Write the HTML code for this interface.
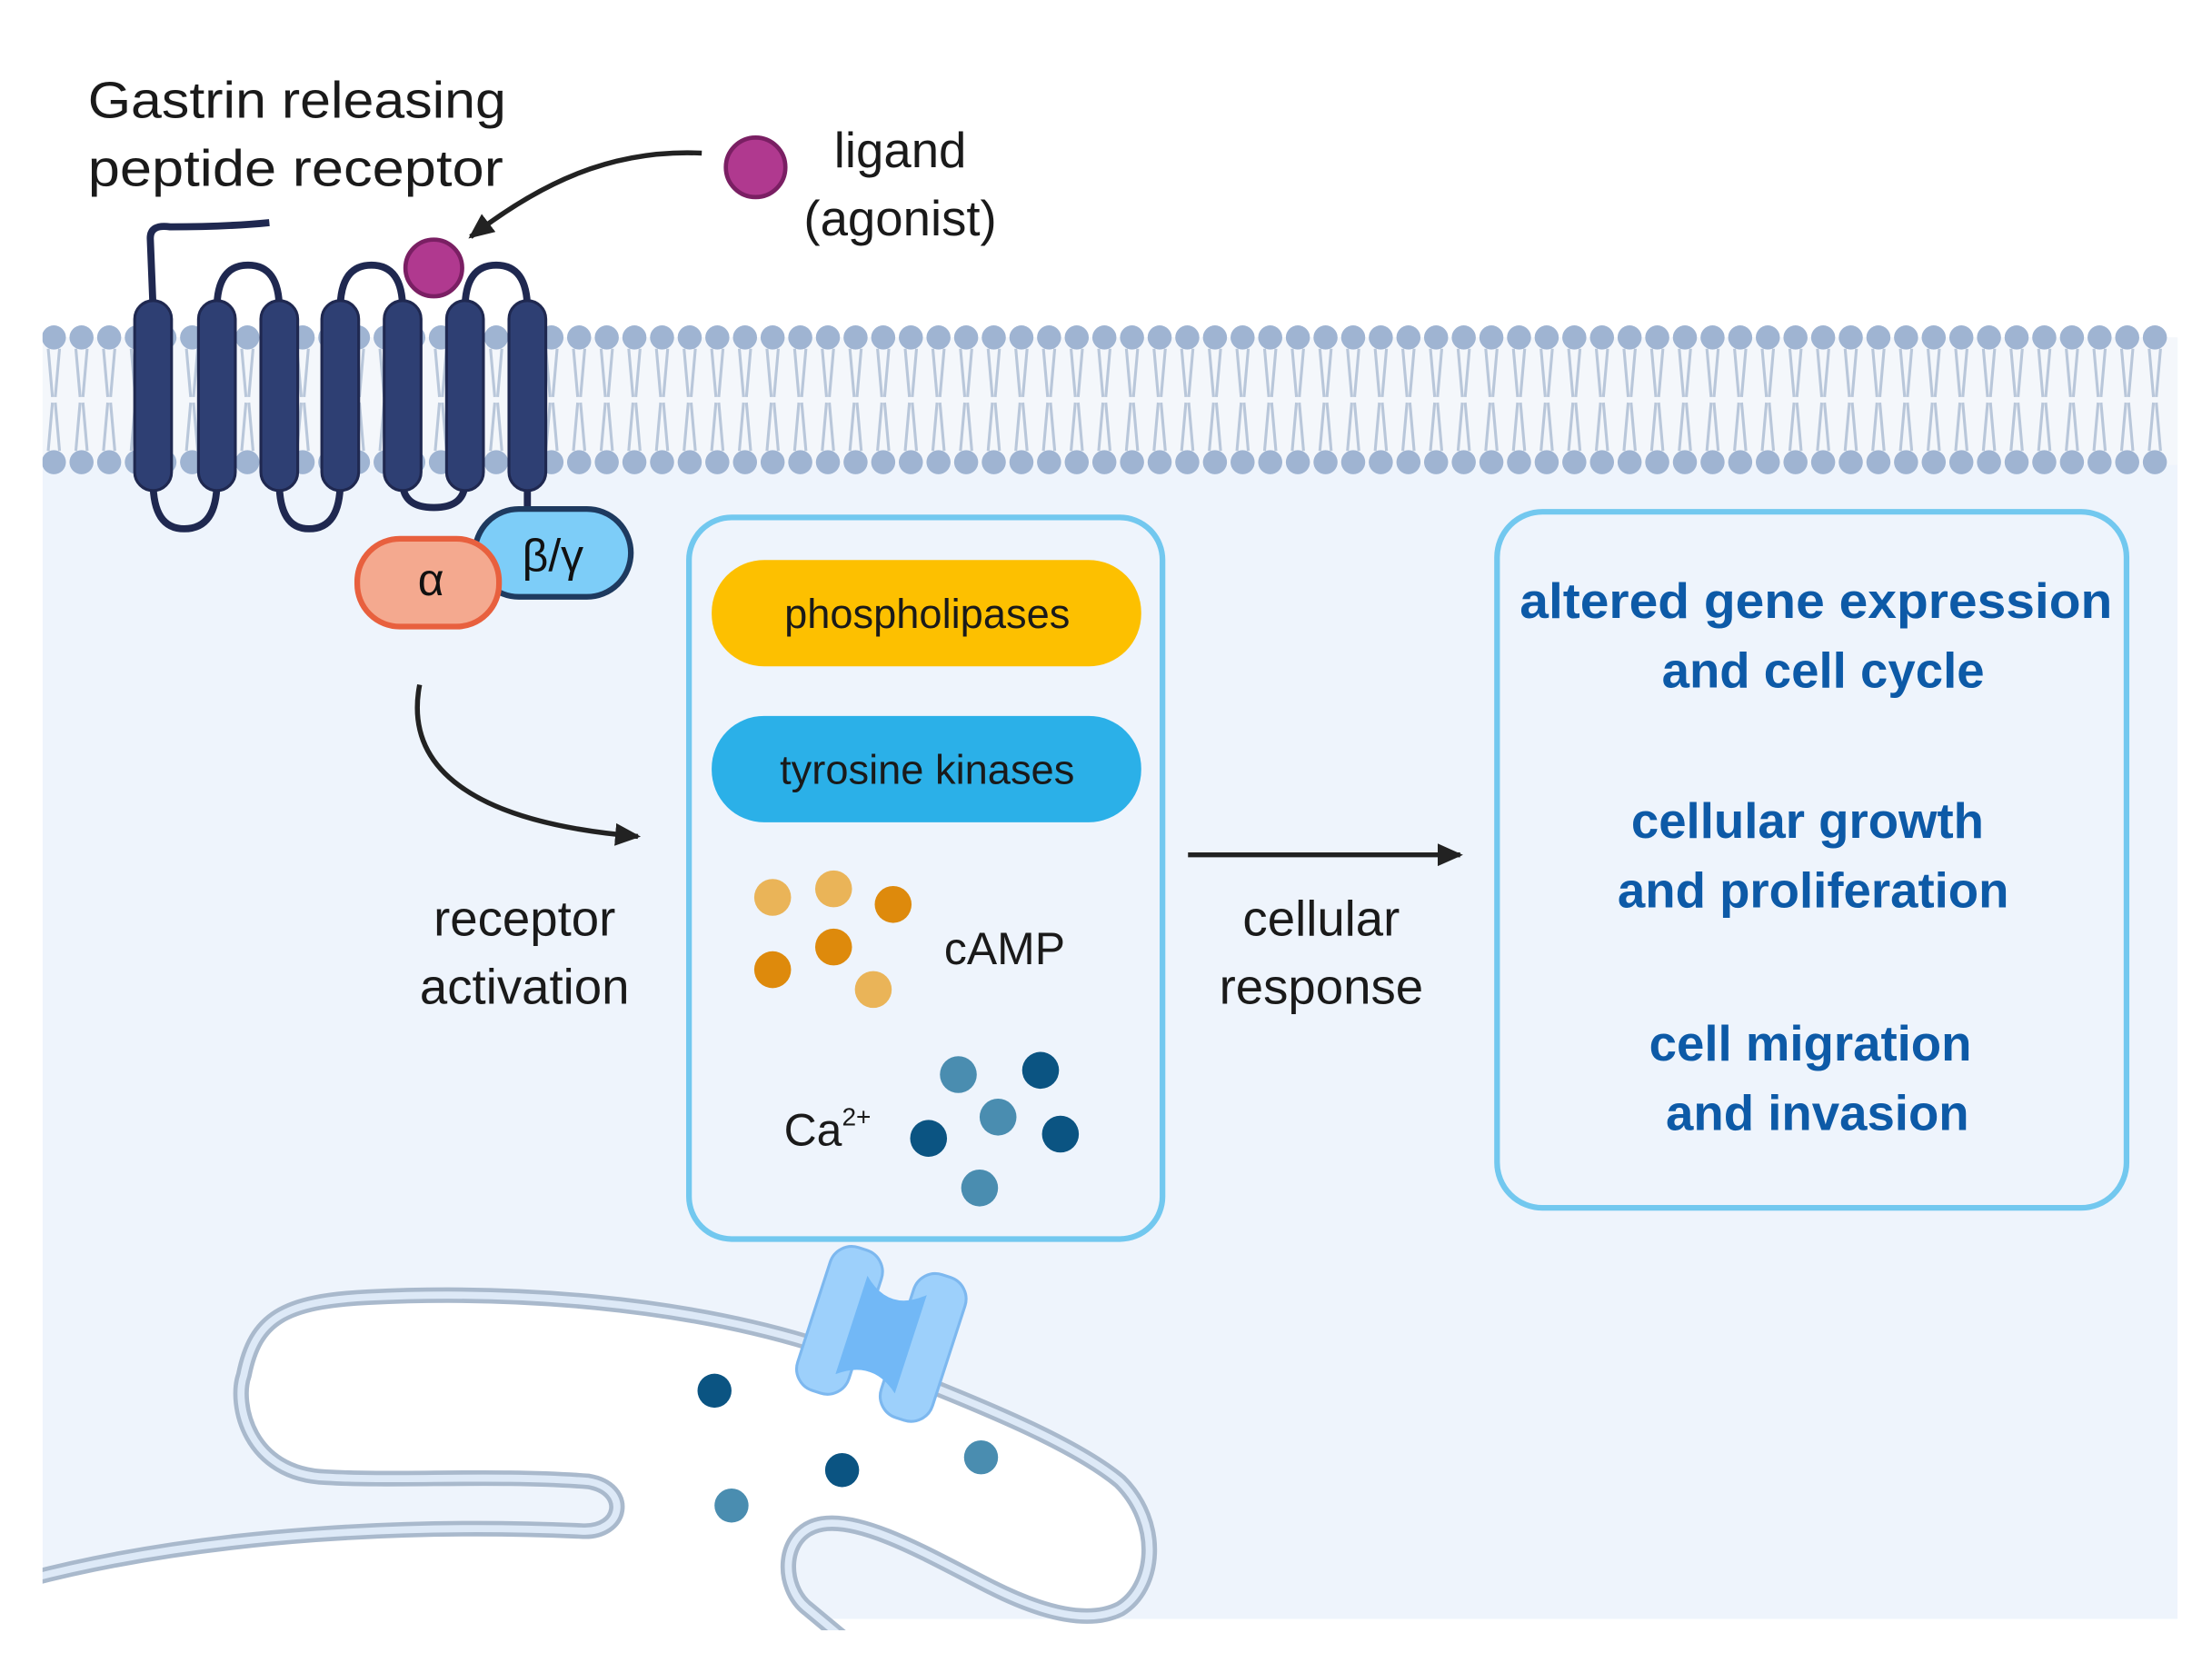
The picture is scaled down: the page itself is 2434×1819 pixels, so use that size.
<!DOCTYPE html>
<html><head><meta charset="utf-8"><style>html,body{margin:0;padding:0;background:#fff}svg{display:block}</style></head>
<body>
<svg width="2434" height="1819" viewBox="0 0 1560.3 1166" xmlns="http://www.w3.org/2000/svg" font-family="'Liberation Sans', sans-serif">
<defs>
<marker id="ah2" markerWidth="18" markerHeight="16" refX="16" refY="8" orient="auto" markerUnits="userSpaceOnUse"><path d="M0,0 L18,8 L0,16 z" fill="#222"/></marker>
</defs>
<rect x="0" y="0" width="1560.3" height="1166" fill="#fff"/>
<rect x="30" y="238" width="1506" height="904" fill="#eef4fc"/>
<rect x="30" y="238" width="1506" height="90" fill="#f4f7fb"/>
<g id="mem"></g>
<g stroke="#b9c7da" stroke-width="2" fill="none">
<path id="tails" d=""/>
</g>
<!-- ER -->
<path d="M20,1114 C150,1080 300,1075 410,1080 C440,1082 445,1050 415,1045 C350,1040 280,1045 230,1042 C175,1040 165,990 172,970 C180,930 200,918 260,915 C360,910 480,918 580,950 L650,975 C700,995 760,1020 790,1045 C820,1075 815,1120 790,1135 C770,1145 740,1140 700,1120 C660,1100 610,1070 580,1075 C550,1080 550,1120 570,1135 L600,1160 L20,1160 Z" fill="#fff" stroke="#a9b9cc" stroke-width="11"/>
<path d="M20,1114 C150,1080 300,1075 410,1080 C440,1082 445,1050 415,1045 C350,1040 280,1045 230,1042 C175,1040 165,990 172,970 C180,930 200,918 260,915 C360,910 480,918 580,950 L650,975 C700,995 760,1020 790,1045 C820,1075 815,1120 790,1135 C770,1145 740,1140 700,1120 C660,1100 610,1070 580,1075 C550,1080 550,1120 570,1135 L600,1160" fill="none" stroke="#dde9f7" stroke-width="5"/>
<rect x="0" y="1150" width="1560" height="16" fill="#fff"/>
<rect x="0" y="0" width="30" height="1166" fill="#fff"/>
<!-- channel -->
<g transform="rotate(18 622 940)">
<rect x="572" y="888" width="38" height="106" rx="16" fill="#9dd0fb" stroke="#7db8ef" stroke-width="2"/>
<rect x="634" y="888" width="38" height="106" rx="16" fill="#9dd0fb" stroke="#7db8ef" stroke-width="2"/>
<path d="M600,905 Q622,925 644,905 L644,978 Q622,960 600,978 Z" fill="#72b8f6"/>
</g>
<circle cx="504" cy="981" r="12" fill="#0b5482"/>
<circle cx="594" cy="1037" r="12" fill="#0b5482"/>
<circle cx="516" cy="1062" r="12" fill="#4a8db0"/>
<circle cx="692" cy="1028" r="12" fill="#4a8db0"/>
<!-- receptor loops -->
<g fill="none" stroke="#1f2850" stroke-width="5">
<path d="M108,218 L106,168 Q106,158 120,160 Q160,160 190,157"/>
<path d="M153,218 Q153,187 175,187 Q197,187 197,218"/>
<path d="M240,218 Q240,187 262,187 Q284,187 284,218"/>
<path d="M328,218 Q328,187 350,187 Q372,187 372,218"/>
<path d="M108,340 Q108,373 130,373 Q153,373 153,340"/>
<path d="M197,340 Q197,373 218,373 Q240,373 240,340"/>
<path d="M284,340 Q284,358 306,358 Q328,358 328,340"/>
<path d="M372,340 L372,362"/>
</g>
<g fill="#2e3f73" stroke="#1f2850" stroke-width="2">
<rect x="95" y="212" width="26" height="134" rx="13"/>
<rect x="140" y="212" width="26" height="134" rx="13"/>
<rect x="184" y="212" width="26" height="134" rx="13"/>
<rect x="227" y="212" width="26" height="134" rx="13"/>
<rect x="271" y="212" width="26" height="134" rx="13"/>
<rect x="315" y="212" width="26" height="134" rx="13"/>
<rect x="359" y="212" width="26" height="134" rx="13"/>
</g>
<circle cx="306" cy="189" r="20" fill="#b0398f" stroke="#7a1f63" stroke-width="3"/>
<rect x="335" y="359" width="110" height="62" rx="31" fill="#7dcdf8" stroke="#1e3a5f" stroke-width="4"/>
<text x="390" y="403" font-size="32" text-anchor="middle" fill="#111">β/γ</text>
<rect x="252" y="380" width="100" height="62" rx="30" fill="#f4a98f" stroke="#e8603e" stroke-width="4"/>
<text x="304" y="420" font-size="32" text-anchor="middle" fill="#111">α</text>
<text x="62" y="83" font-size="36" fill="#1a1a1a" textLength="295" lengthAdjust="spacingAndGlyphs">Gastrin releasing</text>
<text x="62" y="131" font-size="36" fill="#1a1a1a" textLength="293" lengthAdjust="spacingAndGlyphs">peptide receptor</text>
<circle cx="533" cy="118" r="21" fill="#b0398f" stroke="#7a1f63" stroke-width="3"/>
<text x="635" y="118" font-size="35" text-anchor="middle" fill="#1a1a1a">ligand</text>
<text x="635" y="166" font-size="35" text-anchor="middle" fill="#1a1a1a">(agonist)</text>
<path d="M495,108 C430,105 380,130 332,167" fill="none" stroke="#222" stroke-width="3.5" marker-end="url(#ah2)"/>
<path d="M296,483 C285,540 330,580 450,590" fill="none" stroke="#222" stroke-width="3.5" marker-end="url(#ah2)"/>
<text x="370" y="660" font-size="35" text-anchor="middle" fill="#1a1a1a">receptor</text>
<text x="370" y="708" font-size="35" text-anchor="middle" fill="#1a1a1a">activation</text>
<path d="M838,603 L1030,603" stroke="#222" stroke-width="3.5" marker-end="url(#ah2)"/>
<text x="932" y="660" font-size="35" text-anchor="middle" fill="#1a1a1a">cellular</text>
<text x="932" y="708" font-size="35" text-anchor="middle" fill="#1a1a1a">response</text>
<rect x="486" y="365" width="334" height="509" rx="30" fill="none" stroke="#72c8ef" stroke-width="4"/>
<rect x="502" y="395" width="303" height="75" rx="37" fill="#fdc000"/>
<text x="654" y="443" font-size="29" text-anchor="middle" fill="#1a1a1a">phospholipases</text>
<rect x="502" y="505" width="303" height="75" rx="37" fill="#2bb0e8"/>
<text x="654" y="553" font-size="29" text-anchor="middle" fill="#1a1a1a">tyrosine kinases</text>
<circle cx="545" cy="633" r="13" fill="#eab458"/>
<circle cx="588" cy="627" r="13" fill="#eab458"/>
<circle cx="630" cy="638" r="13" fill="#de8a0c"/>
<circle cx="545" cy="684" r="13" fill="#de8a0c"/>
<circle cx="588" cy="668" r="13" fill="#de8a0c"/>
<circle cx="616" cy="698" r="13" fill="#eab458"/>
<text x="666" y="680" font-size="32" fill="#1a1a1a">cAMP</text>
<text x="553" y="808" font-size="32" fill="#1a1a1a">Ca<tspan font-size="18" dy="-14">2+</tspan></text>
<circle cx="676" cy="758" r="13" fill="#4a8db0"/>
<circle cx="734" cy="755" r="13" fill="#0b5482"/>
<circle cx="704" cy="788" r="13" fill="#4a8db0"/>
<circle cx="655" cy="803" r="13" fill="#0b5482"/>
<circle cx="748" cy="800" r="13" fill="#0b5482"/>
<circle cx="691" cy="838" r="13" fill="#4a8db0"/>
<rect x="1056" y="361" width="444" height="491" rx="32" fill="none" stroke="#72c8ef" stroke-width="4"/>
<g font-size="35" font-weight="bold" fill="#0d5aa7" text-anchor="middle">
<text x="1281" y="436" textLength="418" lengthAdjust="spacingAndGlyphs">altered gene expression</text>
<text x="1286" y="485">and cell cycle</text>
<text x="1275" y="591">cellular growth</text>
<text x="1279" y="640">and proliferation</text>
<text x="1277" y="748">cell migration</text>
<text x="1282" y="797">and invasion</text>
</g>
<script>
(function(){
var ns="http://www.w3.org/2000/svg",g=document.getElementById('mem'),d="";
for(var x=38;x<=1536;x+=19.5){
 d+="M"+(x-4)+",246 L"+(x-1)+",280 M"+(x+4)+",246 L"+(x+1)+",280 ";
 d+="M"+(x-1)+",284 L"+(x-4)+",318 M"+(x+1)+",284 L"+(x+4)+",318 ";
 [238,326].forEach(function(y){var c=document.createElementNS(ns,'circle');c.setAttribute('cx',x);c.setAttribute('cy',y);c.setAttribute('r',8.5);c.setAttribute('fill','#9fb4d2');g.appendChild(c);});
}
document.getElementById('tails').setAttribute('d',d);
})();
</script>
</svg>
</body></html>
